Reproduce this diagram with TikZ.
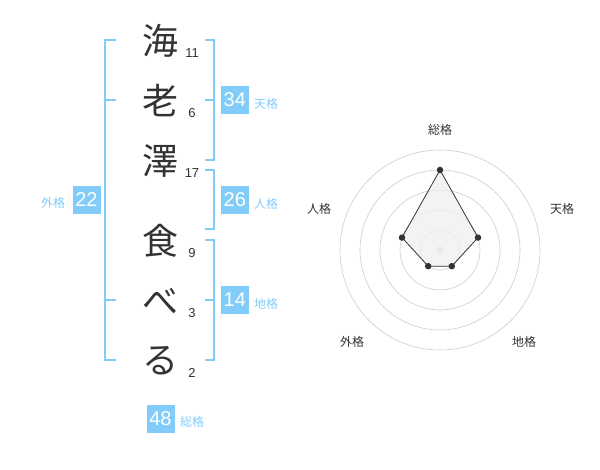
\documentclass[tikz,border=0pt]{standalone}
\usepackage{fontspec}
\setmainfont{Liberation Sans}
\newfontfamily\cjk{Noto Sans CJK JP}
\definecolor{skyb}{HTML}{82CCFA}
\definecolor{ink}{HTML}{333333}
\definecolor{ring}{HTML}{CCCCCC}
\definecolor{area}{HTML}{F0F0F0}
\begin{document}
\begin{tikzpicture}[x=1pt,y=-1pt,
  ch/.style={inner sep=0pt,text=ink,font=\cjk\fontsize{36}{36}\selectfont},
  num/.style={inner sep=0pt,text=ink,font=\fontsize{13}{13}\selectfont},
  box/.style={fill=skyb,text=white,minimum width=28pt,minimum height=28pt,inner sep=0pt,font=\fontsize{20}{20}\selectfont},
  lab/.style={inner sep=0pt,text=skyb,font=\cjk\fontsize{12}{12}\selectfont},
  rlab/.style={inner sep=0pt,text=ink,font=\cjk\fontsize{12}{12}\selectfont},
  brk/.style={draw=skyb,line width=2pt},
  dot/.style={circle,fill=ink,inner sep=0pt,minimum size=6.5pt}]
\useasboundingbox (0,0) rectangle (600,470);
% characters
\node[ch] (c1) at (160,41) {海};
\node[ch] (c2) at (160,101) {老};
\node[ch] (c3) at (160,161) {澤};
\node[ch] (c4) at (160,241) {食};
\node[ch] (c5) at (160,301) {べ};
\node[ch] (c6) at (160,361) {る};
\node[num] (n1) at (192,53) {11};
\node[num] (n2) at (192,113) {6};
\node[num] (n3) at (192,173) {17};
\node[num] (n4) at (192,253) {9};
\node[num] (n5) at (192,313) {3};
\node[num] (n6) at (192,373) {2};
% left bracket
\draw[brk] (116,40) -- (105,40) -- (105,360) -- (116,360);
\draw[brk] (105,100) -- (116,100);
\draw[brk] (105,300) -- (116,300);
\node[box] (gai) at (86.5,200) {22};
\node[lab] (gail) at (53,203) {外格};
% right brackets
\draw[brk] (205,40) -- (214,40) -- (214,160) -- (205,160);
\draw[brk] (214,100) -- (205,100);
\node[box] (ten) at (234.8,100) {34};
\node[lab] (tenl) at (266,104) {天格};
\draw[brk] (205,170) -- (214,170) -- (214,229) -- (205,229);
\node[box] (jin) at (234.8,200) {26};
\node[lab] (jinl) at (266,204) {人格};
\draw[brk] (205,240) -- (214,240) -- (214,360) -- (205,360);
\draw[brk] (214,300) -- (205,300);
\node[box] (chi) at (234.8,300) {14};
\node[lab] (chil) at (266,304) {地格};
\node[box] (sou) at (160.5,419) {48};
\node[lab] (soul) at (192,422) {総格};
% radar
\coordinate (o) at (440,250);
\foreach \r in {20,40,60,80,100} \draw[ring,line width=0.6pt] (o) circle (\r);
\fill[ring] (o) circle (3.5);
\coordinate (p1) at (440,170);
\coordinate (p2) at (478,237.6);
\coordinate (p3) at (451.8,266.2);
\coordinate (p4) at (428.2,266.2);
\coordinate (p5) at (402,237.6);
\filldraw[fill=area,fill opacity=0.8,draw=ink,line width=0.8pt] (p1) -- (p2) -- (p3) -- (p4) -- (p5) -- cycle;
\foreach \p in {p1,p2,p3,p4,p5} \node[dot] at (\p) {};
\node[rlab] (r1) at (440,130) {総格};
\node[rlab] (r2) at (562,209) {天格};
\node[rlab] (r3) at (524,342) {地格};
\node[rlab] (r4) at (352,342) {外格};
\node[rlab] (r5) at (319,209) {人格};
\end{tikzpicture}
\end{document}
